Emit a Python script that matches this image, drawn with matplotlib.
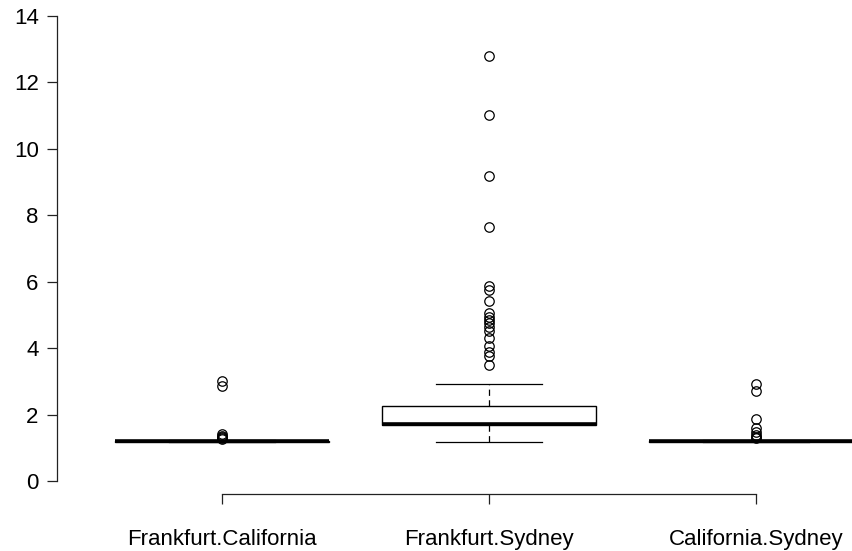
import matplotlib
matplotlib.use("Agg")
import matplotlib.pyplot as plt

categories = ["Frankfurt.California", "Frankfurt.Sydney", "California.Sydney"]
medians = [1.19, 1.72, 1.20]
q1s = [1.175, 1.70, 1.185]
q3s = [1.205, 2.27, 1.215]
whis_lo = [1.16, 1.165, 1.17]
whis_hi = [1.22, 2.91, 1.24]
fliers = [
    [3.02, 2.87, 1.42, 1.36, 1.32, 1.28, 1.25],
    [12.8, 11.02, 9.19, 7.65, 5.88, 5.75, 5.42, 5.05, 4.95, 4.85, 4.75,
     4.63, 4.53, 4.30, 4.07, 3.87, 3.77, 3.49],
    [2.92, 2.72, 1.86, 1.59, 1.49, 1.39, 1.32, 1.28],
]
yticks = [0, 2, 4, 6, 8, 10, 12, 14]

plt.rcParams['font.family'] = ['Liberation Sans', 'DejaVu Sans']

W, H = 853, 551
fig = plt.figure(figsize=(W / 100, H / 100), dpi=100)

# pixel mapping
x_left, x_right = 57.0, 921.0
ylo, yhi = -0.39, 14.39
py_bottom = 481 - 33.214 * ylo
py_top = 481 - 33.214 * yhi
ax = fig.add_axes([x_left / W, (H - py_bottom) / H,
                   (x_right - x_left) / W, (py_bottom - py_top) / H])

stats = []
for i, c in enumerate(categories):
    stats.append(dict(label=c, med=medians[i], q1=q1s[i], q3=q3s[i],
                      whislo=whis_lo[i], whishi=whis_hi[i], fliers=fliers[i]))

ax.bxp(stats, positions=[1, 2, 3], widths=0.8, patch_artist=True,
       showcaps=True, showfliers=True,
       boxprops=dict(facecolor='white', edgecolor='black', linewidth=1.0),
       medianprops=dict(color='black', linewidth=2.6, solid_capstyle='butt'),
       whiskerprops=dict(color='black', linewidth=0.9, linestyle=(0, (5, 3.5))),
       capprops=dict(color='black', linewidth=0.9),
       capwidths=0.4,
       flierprops=dict(marker='o', markerfacecolor='none', markeredgecolor='black',
                       markersize=6.8, markeredgewidth=0.9, linestyle='none'))

ax.set_xlim(0.382, 3.618)
ax.set_ylim(ylo, yhi)

for s in ['top', 'right']:
    ax.spines[s].set_visible(False)
ax.spines['left'].set_bounds(0, 14)
ax.spines['bottom'].set_bounds(1, 3)
for s in ['left', 'bottom']:
    ax.spines[s].set_linewidth(0.9)
    ax.spines[s].set_color('#222222')

ax.set_yticks(yticks)
ax.set_yticklabels([str(t) for t in yticks])
ax.set_xticks([1, 2, 3])
ax.set_xticklabels(categories)
ax.tick_params(axis='both', direction='out', length=7.2, width=0.9,
               color='#222222', labelsize=16)
ax.tick_params(axis='y', pad=6)
ax.tick_params(axis='x', pad=18)

fig.savefig("out.png", dpi=100)
